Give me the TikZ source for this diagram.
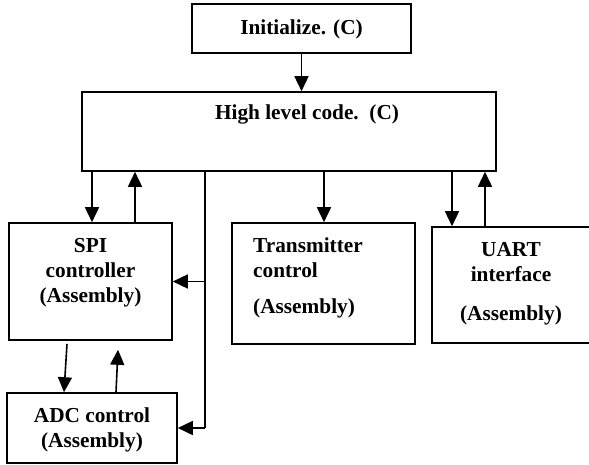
\documentclass[tikz,border=0pt]{standalone}
\usepackage{fontspec}
\setmainfont{Liberation Serif}
\usetikzlibrary{arrows.meta,calc}
\begin{document}
\begin{tikzpicture}[x=1bp,y=-1bp,
  box/.style={draw,line width=1.6bp,inner sep=0pt},
  txt/.style={font=\fontsize{21.3bp}{24.8bp}\selectfont\bfseries,inner sep=0pt},
  arr/.style={line width=1.6bp,-{Triangle[length=15bp,width=14bp]}},
  ln/.style={line width=1.6bp}]
\useasboundingbox (0,0) rectangle (589,465);
\clip (0,0) rectangle (589,465);
% boxes
\node[box,minimum width=219bp,minimum height=49bp] (init) at (301.5,28.5) {};
\node[txt] (initt) at (301.5,29) {Initialize. (C)};
\node[box,minimum width=414bp,minimum height=79bp] (high) at (289,131.5) {};
\node[txt] (hight) at (307,114) {High level code.\ \ (C)};
\node[box,minimum width=163bp,minimum height=117bp] (spi) at (90.5,281.5) {};
\node[txt,align=center] (spit) at (90.5,272.5) {SPI\\controller\\(Assembly)};
\node[box,minimum width=170bp,minimum height=70bp] (adc) at (92,428) {};
\node[txt,align=center] (adct) at (92,430) {ADC control\\(Assembly)};
\node[box,minimum width=183bp,minimum height=121bp] (trans) at (323.5,283.5) {};
\node[txt,align=left,anchor=west] (transt) at (253,278) {Transmitter\\control\\[12bp](Assembly)};
\node[box,minimum width=160bp,minimum height=116bp] (uart) at (512,285) {};
\node[txt,align=center] (uartt) at (511,283.5) {UART\\interface\\[14bp](Assembly)};
% helper coordinates
\coordinate (a1) at ($(spi.north)+(1.5,0)$);
\coordinate (a2) at ($(spi.north)+(44.5,0)$);
\coordinate (bus) at ($(high.south)+(-84,0)$);
\coordinate (j1) at (bus |- spi.east);
\coordinate (j2) at (bus |- adc.east);
\coordinate (t1) at ($(trans.north)+(0.5,0)$);
\coordinate (u1) at ($(uart.north)+(-60,0)$);
\coordinate (u2) at ($(uart.north)+(-27,0)$);
% connectors
\draw[arr] (init.south) -- (init.south |- high.north);
\draw[arr] (a1 |- high.south) -- (a1);
\draw[arr] (a2) -- (a2 |- high.south);
\draw[ln] (bus) -- (j2);
\draw[arr] (j1) -- (spi.east);
\draw[arr] (j2) -- (adc.east);
\draw[arr] (t1 |- high.south) -- (t1);
\draw[arr] (u1 |- high.south) -- (u1);
\draw[arr] (u2) -- (u2 |- high.south);
\draw[arr] ($(spi.south)+(-23.5,3)$) -- ($(adc.north)+(-28,0)$);
\draw[arr] ($(adc.north)+(24,0)$) -- ($(spi.south)+(27.5,9)$);
\end{tikzpicture}
\end{document}
